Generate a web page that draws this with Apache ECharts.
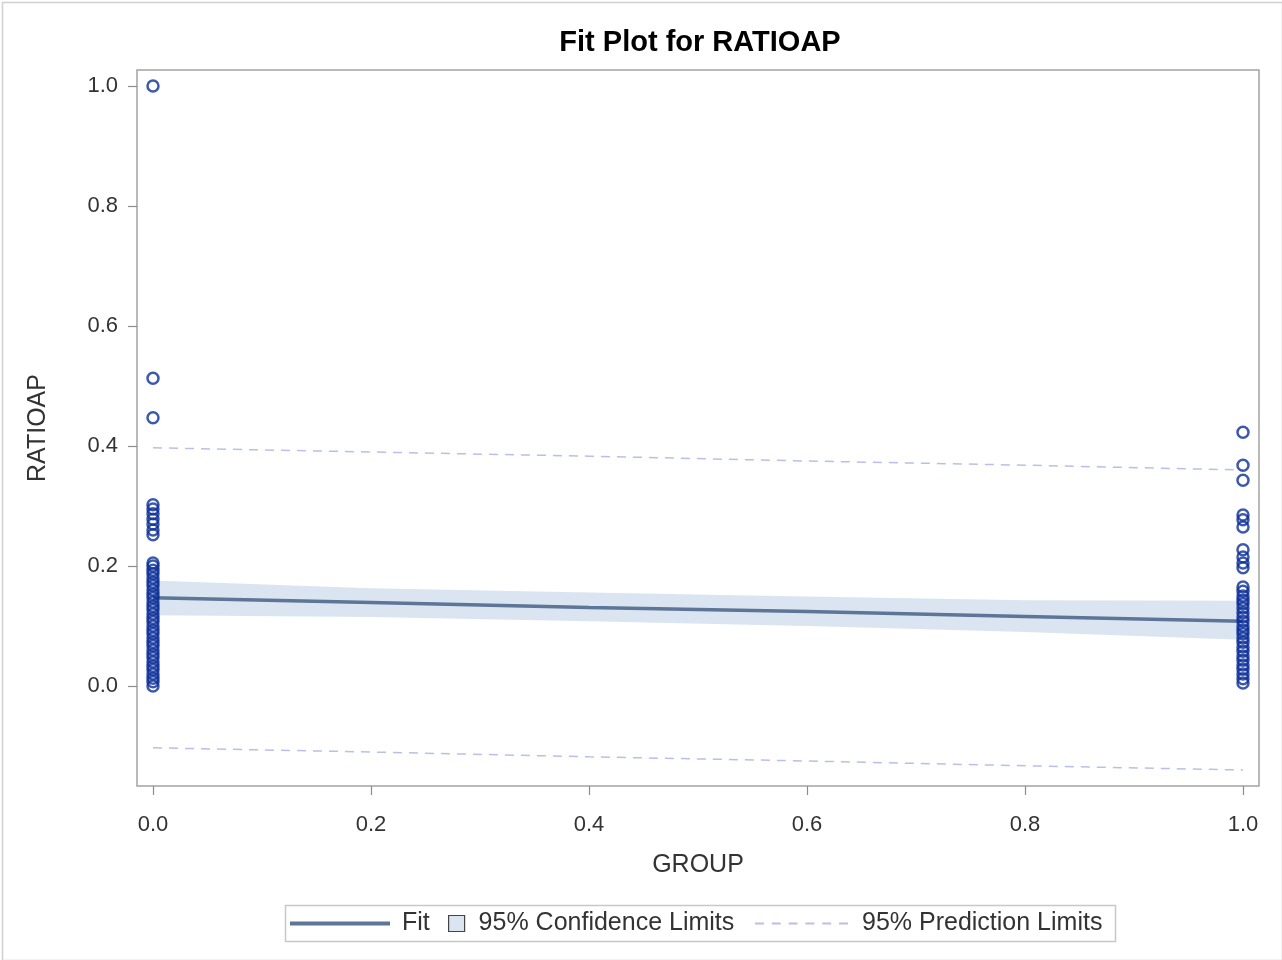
<!DOCTYPE html>
<html>
<head>
<meta charset="utf-8">
<script src="https://cdn.jsdelivr.net/npm/echarts@6/dist/echarts.min.js"></script>
<style>
  html, body { margin: 0; padding: 0; background: #fff; }
  #chart { width: 1282px; height: 960px; }
</style>
</head>
<body>
<div id="chart"></div>
<script>
// observations, GROUP = 0
const group0 = [1.0, 0.513, 0.447, 0.302, 0.295, 0.287, 0.278, 0.270, 0.260, 0.252,
  0.205, 0.200, 0.193, 0.187, 0.180, 0.173, 0.167, 0.160, 0.153, 0.147, 0.140, 0.133,
  0.127, 0.120, 0.113, 0.107, 0.100, 0.093, 0.087, 0.080, 0.073, 0.067, 0.060, 0.053,
  0.047, 0.040, 0.033, 0.027, 0.020, 0.013, 0.007, 0.0]
// observations, GROUP = 1
const group1 = [0.423, 0.368, 0.343, 0.285, 0.277, 0.265, 0.227, 0.215, 0.205, 0.197,
  0.165, 0.158, 0.150, 0.143, 0.137, 0.130, 0.122, 0.115, 0.108, 0.100, 0.093, 0.087,
  0.080, 0.073, 0.065, 0.058, 0.050, 0.043, 0.035, 0.028, 0.020, 0.012, 0.005]

const fitX = [0, 0.2, 0.4, 0.6, 0.8, 1.0]
const fitY = [0.147, 0.139, 0.131, 0.124, 0.116, 0.108]
const ciUpper = [0.176, 0.163, 0.156, 0.149, 0.143, 0.142]
const ciLower = [0.118, 0.115, 0.108, 0.100, 0.090, 0.077]
const predUpper = [0.397, 0.390, 0.383, 0.375, 0.368, 0.360]
const predLower = [-0.103, -0.110, -0.118, -0.125, -0.133, -0.140]

const xTicks = [0, 0.2, 0.4, 0.6, 0.8, 1.0]
const yTicks = [0, 0.2, 0.4, 0.6, 0.8, 1.0]

const FONT = 'Liberation Sans'
const FIT_COLOR = '#5d7596'
const BAND_COLOR = '#dbe5f1'
const PRED_COLOR = '#b9c0e6'
const DOT_COLOR = '#0c2f98'

const pairs = (xs, ys) => xs.map((x, i) => [x, ys[i]])

const axisCommon = {
  type: 'value',
  splitLine: { show: false },
  axisLine: { show: false, onZero: false },
  axisTick: { show: true, length: 9, lineStyle: { color: '#8c8c8c', width: 1.2 } },
  axisLabel: {
    color: '#333', fontFamily: FONT, fontSize: 22,
    formatter: v => v.toFixed(1)
  },
  nameLocation: 'middle',
  nameTextStyle: { color: '#333', fontFamily: FONT, fontSize: 25 }
}

const legendText = pad => ({ fontFamily: FONT, fontSize: 25, color: '#333', padding: [0, 0, 0, pad] })

const option = {
  animation: false,
  title: {
    text: 'Fit Plot for RATIOAP',
    left: 695,
    textAlign: 'center',
    top: 23,
    textStyle: { fontFamily: FONT, fontSize: 29, fontWeight: 'bold', color: '#000' }
  },
  grid: {
    left: 137, right: 23, top: 70, bottom: 174,
    show: true, borderColor: '#a3a3a3', borderWidth: 1.5
  },
  xAxis: Object.assign({}, axisCommon, {
    min: -0.01468,
    max: 1.01468,
    name: 'GROUP',
    nameGap: 67,
    axisTick: Object.assign({}, axisCommon.axisTick, { customValues: xTicks }),
    axisLabel: Object.assign({}, axisCommon.axisLabel, { customValues: xTicks, margin: 28 })
  }),
  yAxis: Object.assign({}, axisCommon, {
    min: -0.16667,
    max: 1.02667,
    name: 'RATIOAP',
    nameGap: 86,
    axisTick: Object.assign({}, axisCommon.axisTick, { customValues: yTicks }),
    axisLabel: Object.assign({}, axisCommon.axisLabel, { customValues: yTicks, margin: 19 })
  }),
  legend: [
    {
      data: [{ name: 'Fit', icon: 'rect', itemStyle: { color: FIT_COLOR } }],
      left: 290, top: 911, padding: 0,
      itemWidth: 100, itemHeight: 4,
      textStyle: legendText(7),
      selectedMode: false
    },
    {
      data: [{
        name: '95% Confidence Limits', icon: 'rect',
        itemStyle: { color: BAND_COLOR, borderColor: '#444', borderWidth: 1.2 }
      }],
      left: 448, top: 911, padding: 0,
      itemWidth: 16, itemHeight: 16,
      textStyle: legendText(9),
      selectedMode: false
    },
    {
      data: [{
        name: '95% Prediction Limits',
        icon: 'path://M0,0h9v2h-9z M17,0h9v2h-9z M34,0h9v2h-9z M51,0h9v2h-9z M68,0h9v2h-9z M85,0h9v2h-9z',
        itemStyle: { color: PRED_COLOR }
      }],
      left: 755, top: 911, padding: 0,
      itemWidth: 93, itemHeight: 2,
      textStyle: legendText(9),
      selectedMode: false
    }
  ],
  graphic: [
    {
      type: 'rect', left: 0, top: 0, silent: true,
      shape: { width: 1280, height: 958 },
      style: { fill: 'none', stroke: '#d0d0d0', lineWidth: 1.5 }
    },
    {
      type: 'rect', left: 283, top: 903, silent: true,
      shape: { width: 830, height: 36 },
      style: { fill: 'none', stroke: '#c8c8c8', lineWidth: 1.5 }
    }
  ],
  series: [
    {
      name: '95% Confidence Limits',
      type: 'custom',
      z: 1,
      clip: true,
      data: [[0, 0]],
      renderItem: (params, api) => {
        const pts = fitX.map((x, i) => api.coord([x, ciUpper[i]]))
          .concat(fitX.map((x, i) => api.coord([x, ciLower[i]])).reverse())
        return { type: 'polygon', shape: { points: pts }, style: { fill: BAND_COLOR } }
      }
    },
    {
      name: '95% Prediction Limits',
      type: 'line',
      z: 2,
      data: pairs(fitX, predUpper),
      symbol: 'none',
      color: PRED_COLOR,
      lineStyle: { color: PRED_COLOR, width: 1.5, type: [9, 7] }
    },
    {
      name: '95% Prediction Limits',
      type: 'line',
      z: 2,
      data: pairs(fitX, predLower),
      symbol: 'none',
      color: PRED_COLOR,
      lineStyle: { color: PRED_COLOR, width: 1.5, type: [9, 7] }
    },
    {
      name: 'Fit',
      type: 'line',
      z: 3,
      data: pairs(fitX, fitY),
      symbol: 'none',
      color: FIT_COLOR,
      lineStyle: { color: FIT_COLOR, width: 3.5 }
    },
    {
      name: 'obs0',
      type: 'scatter',
      z: 4,
      data: group0.map(v => [0, v]),
      symbol: 'circle',
      symbolSize: 11,
      itemStyle: { color: 'rgba(255,255,255,0)', borderColor: DOT_COLOR, borderWidth: 2.5 }
    },
    {
      name: 'obs1',
      type: 'scatter',
      z: 4,
      data: group1.map(v => [1, v]),
      symbol: 'circle',
      symbolSize: 11,
      itemStyle: { color: 'rgba(255,255,255,0)', borderColor: DOT_COLOR, borderWidth: 2.5 }
    }
  ]
}

const myChart = echarts.init(document.getElementById('chart'))
myChart.setOption(option)
</script>
</body>
</html>
